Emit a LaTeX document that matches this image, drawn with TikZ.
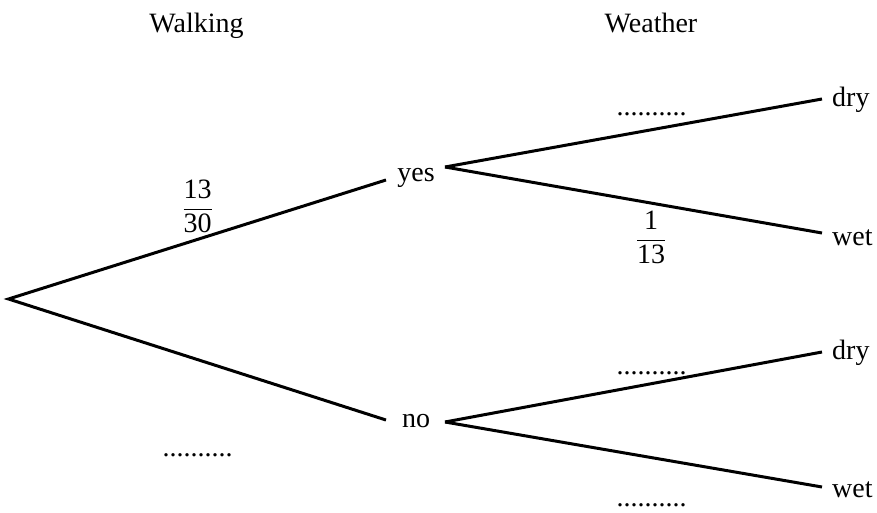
\documentclass[tikz,border=0pt]{standalone}
\usepackage{amsmath}
\usepackage{fontspec}
\setmainfont{Liberation Serif}
\begin{document}
\begin{tikzpicture}[x=1pt,y=-1pt,
  branch/.style={line width=3pt},
  lbl/.style={inner sep=0pt,font=\fontsize{28}{32}\selectfont,anchor=base},
  leaf/.style={lbl,anchor=base west},
  frac/.style={inner sep=0pt,font=\fontsize{28}{32}\selectfont}]
\useasboundingbox (0,0) rectangle (877,513);
% headers
\node[lbl] (hwalk) at (196.5,33) {Walking};
\node[lbl] (hweather) at (651,33) {Weather};
% branch nodes
\coordinate (root) at (8.5,299);
\node[lbl] (yes) at (416,182) {yes};
\node[lbl] (no) at (416,427) {no};
\coordinate (yesL) at (386,180);
\coordinate (yesR) at (445,167);
\coordinate (noL) at (386,420);
\coordinate (noR) at (445,422);
% leaves
\node[leaf] (dry1) at (832,107) {dry};
\node[leaf] (wet1) at (832,245) {wet};
\node[leaf] (dry2) at (832,359) {dry};
\node[leaf] (wet2) at (832,497) {wet};
\coordinate (dry1e) at (822,99);
\coordinate (wet1e) at (822,233);
\coordinate (dry2e) at (822,352);
\coordinate (wet2e) at (822,487);
% branches
\draw[branch,line join=miter] (yesL) -- (root) -- (noL);
\draw[branch] (yesR) -- (dry1e);
\draw[branch] (yesR) -- (wet1e);
\draw[branch] (noR) -- (dry2e);
\draw[branch] (noR) -- (wet2e);
% labels
\node[frac] (p1) at (197.5,206.5) {$\dfrac{\text{13}}{\text{30}}$};
\node[lbl] (p2) at (197.5,456) {..........};
\node[lbl] (p3) at (651.5,116) {..........};
\node[frac] (p4) at (651,237.5) {$\dfrac{\text{1}}{\text{13}}$};
\node[lbl] (p5) at (651.5,374) {..........};
\node[lbl] (p6) at (651.5,506) {..........};
\end{tikzpicture}
\end{document}
